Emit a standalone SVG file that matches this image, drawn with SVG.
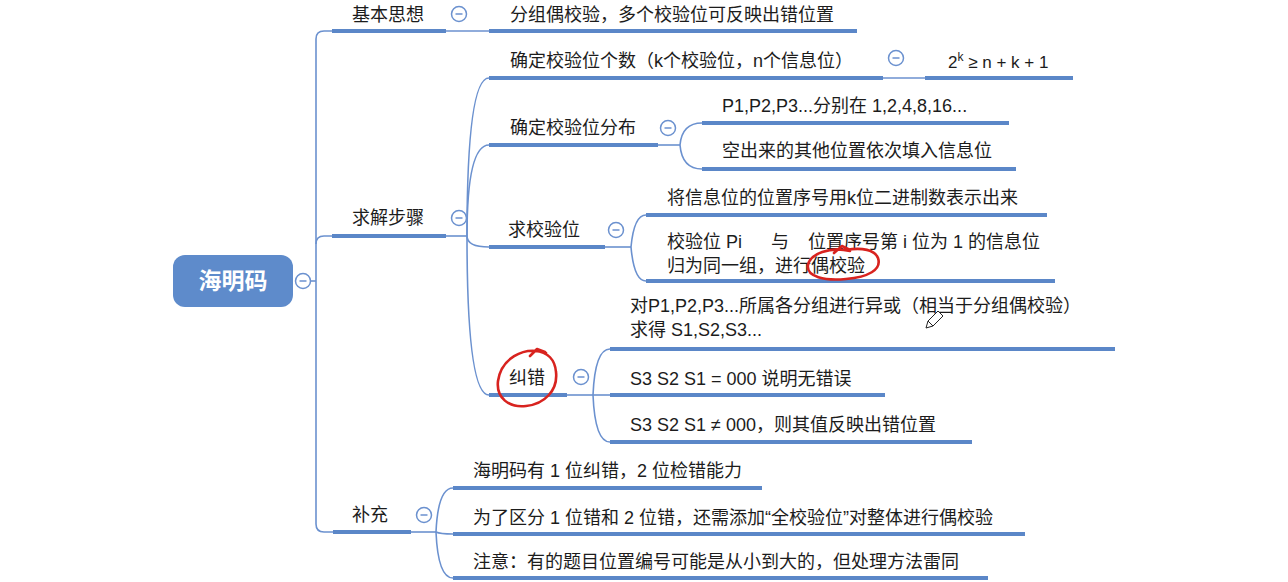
<svg xmlns="http://www.w3.org/2000/svg" width="1288" height="582" viewBox="0 0 1288 582">
<style>
.t{font-family:"Liberation Sans","Noto Sans CJK SC",sans-serif;font-size:18px;fill:#1c1c1c}
.f{font-family:"Liberation Sans","Noto Sans CJK SC",sans-serif;font-size:17px;fill:#1c1c1c}
.u{stroke:#5b87c8;stroke-width:4;fill:none}
.c{stroke:#6b91cf;stroke-width:1.6;fill:none}
.red{stroke:#d8231f;stroke-width:2.6;fill:none;stroke-linecap:round;stroke-linejoin:round}
</style>
<defs>
<g id="minus"><circle cx="0" cy="0" r="7.5" fill="#fff" stroke="#6b91cf" stroke-width="1.5"/><line x1="-3.5" y1="0" x2="3.5" y2="0" stroke="#6b91cf" stroke-width="1.5"/></g>
</defs>
<rect width="1288" height="582" fill="#fff"/>

<g id="connectors">
<path class="c" d="M310 281 H316"/>
<path class="c" d="M316 281 V39 Q316 31 324 31 H332"/>
<path class="c" d="M316 244 Q316 236 324 236 H332"/>
<path class="c" d="M316 281 V524 Q316 532 324 532 H333"/>
<path class="c" d="M446 31 H489"/>
<path class="c" d="M446 236 H467"/>
<path class="c" d="M467 236 Q467 78 489 78"/>
<path class="c" d="M467 236 Q467 145 489 145"/>
<path class="c" d="M467 236 Q467 247 489 247"/>
<path class="c" d="M467 236 Q467 395 489 395"/>
<path class="c" d="M883 78 H925"/>
<path class="c" d="M658 145 H680"/>
<path class="c" d="M680 145 Q682 123 702 123"/>
<path class="c" d="M680 145 Q682 169 702 169"/>
<path class="c" d="M605 247 H631"/>
<path class="c" d="M631 247 Q634 215 646 215"/>
<path class="c" d="M631 247 Q634 281 646 281"/>
<path class="c" d="M567 395 H593"/>
<path class="c" d="M593 395 Q595 349 610 349"/>
<path class="c" d="M593 395 H610"/>
<path class="c" d="M593 395 Q595 442 610 442"/>
<path class="c" d="M411 532 H436"/>
<path class="c" d="M436 532 Q438 488 453 488"/>
<path class="c" d="M436 532 Q440 534 453 534"/>
<path class="c" d="M436 532 Q438 578 453 578"/>
</g>

<g id="root">
<rect x="173" y="255" width="120" height="52" rx="12" fill="#5e8bcb"/>
<text x="233" y="289" text-anchor="middle" font-family="Noto Sans CJK SC, sans-serif" font-size="23" font-weight="600" fill="#fff">海明码</text>
<use href="#minus" x="303" y="281"/>
</g>

<g id="n-jbsx">
<text class="t" x="352" y="21">基本思想</text>
<line class="u" x1="332" y1="31" x2="446" y2="31"/>
<use href="#minus" x="459" y="14"/>
</g>
<g id="n-fzo">
<text class="t" x="510" y="21">分组偶校验，多个校验位可反映出错位置</text>
<line class="u" x1="489" y1="31" x2="857" y2="31"/>
</g>

<g id="n-qjbz">
<text class="t" x="352" y="224">求解步骤</text>
<line class="u" x1="332" y1="236" x2="446" y2="236"/>
<use href="#minus" x="459" y="218"/>
</g>

<g id="n-qdgs">
<text class="t" x="510" y="67">确定校验位个数（k个校验位，n个信息位）</text>
<line class="u" x1="489" y1="78" x2="883" y2="78"/>
<use href="#minus" x="896" y="58"/>
</g>
<g id="n-formula">
<text class="f" x="948" y="68">2<tspan font-size="12" dy="-7">k</tspan><tspan dy="7"> ≥ n + k + 1</tspan></text>
<line class="u" x1="925" y1="78" x2="1073" y2="78"/>
</g>

<g id="n-qdfb">
<text class="t" x="510" y="134">确定校验位分布</text>
<line class="u" x1="489" y1="145" x2="658" y2="145"/>
<use href="#minus" x="668" y="128"/>
</g>
<g id="n-p1">
<text class="t" x="722" y="112">P1,P2,P3...分别在 1,2,4,8,16...</text>
<line class="u" x1="702" y1="123" x2="1009" y2="123"/>
</g>
<g id="n-kcl">
<text class="t" x="722" y="157">空出来的其他位置依次填入信息位</text>
<line class="u" x1="702" y1="169" x2="1016" y2="169"/>
</g>

<g id="n-qjyw">
<text class="t" x="508" y="236">求校验位</text>
<line class="u" x1="489" y1="247" x2="605" y2="247"/>
<use href="#minus" x="616" y="230"/>
</g>
<g id="n-jxxw">
<text class="t" x="667" y="204">将信息位的位置序号用k位二进制数表示出来</text>
<line class="u" x1="646" y1="215" x2="1047" y2="215"/>
</g>
<g id="n-jywpi">
<text class="t" x="667" y="248">校验位 Pi<tspan x="771">与</tspan><tspan x="808">位置序号第 i 位为 1 的信息位</tspan></text>
<text class="t" x="667" y="272">归为同一组，进行偶校验</text>
<line class="u" x1="646" y1="281" x2="1055" y2="281"/>
</g>

<g id="n-jc">
<text class="t" x="509" y="384">纠错</text>
<line class="u" x1="489" y1="395" x2="567" y2="395"/>
<use href="#minus" x="581" y="377"/>
</g>
<g id="n-dp1">
<text class="t" x="630" y="312">对P1,P2,P3...所属各分组进行异或（相当于分组偶校验）</text>
<text class="t" x="630" y="336">求得 S1,S2,S3...</text>
<line class="u" x1="610" y1="349" x2="1115" y2="349"/>
</g>
<g id="n-s000">
<text class="t" x="630" y="385">S3 S2 S1 = 000 说明无错误</text>
<line class="u" x1="610" y1="395" x2="885" y2="395"/>
</g>
<g id="n-sne">
<text class="t" x="630" y="431">S3 S2 S1 ≠ 000，则其值反映出错位置</text>
<line class="u" x1="610" y1="442" x2="972" y2="442"/>
</g>

<g id="n-bc">
<text class="t" x="352" y="521">补充</text>
<line class="u" x1="333" y1="532" x2="411" y2="532"/>
<use href="#minus" x="424" y="515"/>
</g>
<g id="n-hmm">
<text class="t" x="473" y="477">海明码有 1 位纠错，2 位检错能力</text>
<line class="u" x1="453" y1="488" x2="762" y2="488"/>
</g>
<g id="n-wlqf">
<text class="t" x="473" y="524">为了区分 1 位错和 2 位错，还需添加“全校验位”对整体进行偶校验</text>
<line class="u" x1="453" y1="534" x2="1025" y2="534"/>
</g>
<g id="n-zy">
<text class="t" x="473" y="568">注意：有的题目位置编号可能是从小到大的，但处理方法雷同</text>
<line class="u" x1="453" y1="578" x2="988" y2="578"/>
</g>

<g id="annotations">
<path class="red" d="M546 353 C522 345 501 360 498 381 C496 398 509 408 526 406 C545 404 558 390 556 372 C555 360 548 352 535 351 M530 356 L537 349 L545 352"/>
<path class="red" d="M850 251 C830 246 810 254 808 265 C806 277 825 281 846 279 C868 277 882 270 878 258 C875 250 862 247 846 250 M834 253 L842 246 L850 250"/>
<path d="M926 328 L928 321 L938 311 L943 316 L933 326 Z M928 321 L933 326" fill="#fff" stroke="#222" stroke-width="1"/>
</g>
</svg>
